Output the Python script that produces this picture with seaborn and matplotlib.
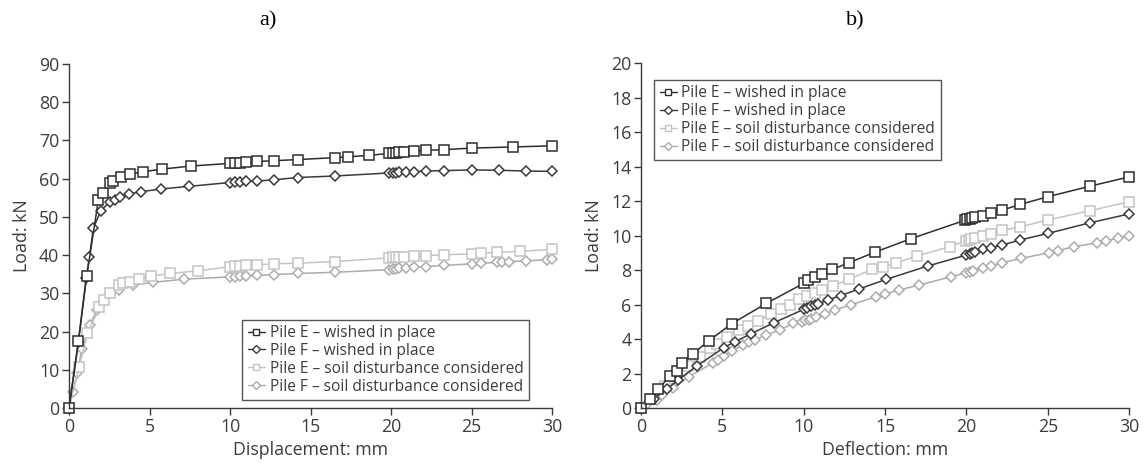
import numpy as np
import pandas as pd
import matplotlib
matplotlib.use("Agg")
import matplotlib.pyplot as plt
from matplotlib.lines import Line2D
import seaborn as sns

# ---------------- a) load-displacement ----------------
a_e_wished_x = [0, 0.58, 1.1, 1.82, 2.09, 2.55, 2.75, 3.23, 3.79, 4.57, 5.76, 7.56,
                10.0, 10.3, 10.6, 11.0, 11.7, 12.7, 14.2, 16.5, 17.3, 18.6,
                19.9, 20.1, 20.3, 20.5, 20.8, 21.4, 22.2, 23.3, 25.0, 27.6, 30.0]
a_e_wished_y = [0, 17.5, 34.6, 54.4, 56.3, 58.8, 59.5, 60.5, 61.2, 61.8, 62.5, 63.3,
                64.0, 64.1, 64.2, 64.3, 64.5, 64.7, 65.0, 65.5, 65.7, 66.1,
                66.6, 66.7, 66.8, 66.9, 67.0, 67.2, 67.4, 67.6, 68.0, 68.3, 68.6]

a_f_wished_x = [0, 0.58, 1.06, 1.26, 1.51, 1.97, 2.55, 2.86, 3.17, 3.73, 4.5, 5.7, 7.47,
                10.0, 10.3, 10.6, 11.0, 11.7, 12.7, 14.2, 16.5,
                19.9, 20.1, 20.3, 20.5, 20.9, 21.4, 22.2, 23.3, 25.0, 26.7, 28.4, 30.0]
a_f_wished_y = [0, 17.2, 33.9, 39.4, 47.0, 51.6, 54.0, 54.5, 55.1, 56.0, 56.6, 57.3, 58.0,
                59.0, 59.1, 59.2, 59.3, 59.4, 59.7, 60.3, 60.7,
                61.5, 61.6, 61.6, 61.7, 61.8, 61.8, 62.0, 62.1, 62.3, 62.2, 62.0, 61.9]

a_e_soil_x = [0, 0.62, 1.14, 1.88, 2.19, 2.55, 3.13, 3.37, 3.79, 4.35, 5.07, 6.27, 8.03,
              10.0, 10.3, 10.6, 11.0, 11.7, 12.7, 14.2, 16.5,
              19.9, 20.1, 20.3, 20.5, 20.8, 21.4, 22.2, 23.3, 25.0, 25.6, 26.6, 28.0, 30.0]
a_e_soil_y = [0, 10.6, 19.5, 26.3, 28.3, 30.2, 32.2, 32.6, 33.0, 33.7, 34.5, 35.2, 35.9,
              37.0, 37.1, 37.2, 37.3, 37.5, 37.7, 37.9, 38.3,
              39.3, 39.4, 39.4, 39.5, 39.6, 39.7, 39.9, 40.1, 40.3, 40.5, 40.7, 41.0, 41.5]

a_f_soil_x = [0, 0.23, 0.52, 0.79, 1.3, 1.72, 2.13, 2.55, 3.13, 4.0, 5.24, 7.14,
              10.0, 10.3, 10.6, 11.0, 11.7, 12.7, 14.2, 16.5,
              19.9, 20.1, 20.3, 20.5, 20.9, 21.4, 22.2, 23.3, 25.0, 25.6, 26.6, 26.9, 27.3,
              28.4, 29.7, 30.0]
a_f_soil_y = [0, 4.3, 9.1, 15.4, 21.7, 25.6, 27.8, 30.0, 30.9, 32.2, 32.9, 33.7,
              34.3, 34.4, 34.5, 34.6, 34.7, 34.9, 35.2, 35.5,
              36.2, 36.3, 36.4, 36.5, 36.7, 36.8, 37.0, 37.3, 37.7, 37.9, 38.1, 38.2, 38.3,
              38.5, 38.8, 38.9]

# ---------------- b) load-deflection ----------------
b_e_wished_x = [0, 0.55, 1.06, 1.78, 2.19, 2.5, 3.17, 4.17, 5.56, 7.71,
                10.0, 10.26, 10.67, 11.1, 11.76, 12.78, 14.36, 16.6,
                19.9, 20.05, 20.2, 20.35, 20.5, 21.0, 21.5, 22.2, 23.3, 25.0, 27.6, 30.0]
b_e_wished_y = [0, 0.55, 1.1, 1.86, 2.16, 2.62, 3.13, 3.9, 4.88, 6.07,
                7.23, 7.42, 7.58, 7.77, 8.04, 8.42, 9.03, 9.82,
                10.88, 10.93, 10.98, 11.03, 11.08, 11.16, 11.3, 11.47, 11.8, 12.25, 12.86, 13.4]

b_f_wished_x = [0, 0.8, 1.58, 2.29, 3.42, 5.09, 5.77, 6.75, 8.18,
                10.0, 10.2, 10.47, 10.67, 10.88, 11.5, 12.27, 13.4, 15.07, 17.62,
                20.0, 20.2, 20.35, 20.5, 21.0, 21.5, 22.2, 23.3, 25.0, 27.6, 30.0]
b_f_wished_y = [0, 0.55, 1.08, 1.64, 2.43, 3.5, 3.84, 4.3, 4.95,
                5.72, 5.8, 5.9, 5.97, 6.05, 6.26, 6.52, 6.9, 7.46, 8.23,
                8.87, 8.93, 8.98, 9.04, 9.2, 9.3, 9.45, 9.74, 10.12, 10.74, 11.25]

b_e_soil_x = [0, 0.6, 1.47, 2.2, 2.9, 3.6, 4.23, 4.65, 5.26, 6.03, 6.58, 7.2, 7.98,
              8.63, 9.14, 9.71, 10.2, 10.67, 11.1, 11.8, 12.78, 14.2, 14.86, 15.7,
              16.95, 18.96, 20.0, 20.15, 20.3, 20.5, 21.0, 21.5, 22.2, 23.3, 25.0, 27.6, 30.0]
b_e_soil_y = [0, 0.5, 1.28, 1.9, 2.43, 2.95, 3.5, 3.7, 4.13, 4.52, 4.75, 5.05, 5.45,
              5.75, 6.0, 6.3, 6.5, 6.68, 6.84, 7.07, 7.46, 8.04, 8.19, 8.42,
              8.81, 9.35, 9.7, 9.74, 9.78, 9.84, 10.0, 10.07, 10.3, 10.5, 10.9, 11.44, 11.96]

b_f_soil_x = [0, 0.35, 1.0, 1.27, 1.94, 2.96, 4.43, 4.74, 5.11, 5.62, 6.28, 6.63, 7.0,
              7.67, 8.53, 9.34, 9.92, 10.1, 10.3, 10.47, 10.78, 11.3, 11.9, 12.93,
              14.46, 15.0, 15.85, 17.1, 19.06, 20.0, 20.2, 20.4, 21.0, 21.5, 22.2,
              23.35, 25.05, 25.6, 26.6, 28.05, 28.6, 29.3, 30.0]
b_f_soil_y = [0, 0.25, 0.48, 0.77, 1.14, 1.82, 2.63, 2.79, 3.04, 3.33, 3.65, 3.84, 3.94,
              4.23, 4.52, 4.9, 5.0, 5.08, 5.12, 5.16, 5.28, 5.45, 5.68, 6.0,
              6.45, 6.6, 6.84, 7.13, 7.61, 7.84, 7.9, 7.97, 8.14, 8.25, 8.42,
              8.67, 9.0, 9.12, 9.35, 9.58, 9.7, 9.84, 10.0]

labels = ["Pile E \u2013 wished in place",
          "Pile F \u2013 wished in place",
          "Pile E \u2013 soil disturbance considered",
          "Pile F \u2013 soil disturbance considered"]
colors = ["#2e2e2e", "#3a3a3a", "#c4c4c4", "#acacac"]
markers = ["s", "D", "s", "D"]
msizes = [7.2, 4.9, 7.2, 4.9]

sns.set_style("ticks")
plt.rcParams["font.family"] = ["Open Sans", "DejaVu Sans"]
text_color = "#3c3c3c"

fig = plt.figure(figsize=(11.47, 4.70), dpi=100)
ax_a = fig.add_axes([0.0602, 0.1319, 0.4211, 0.7319])
ax_b = fig.add_axes([0.5589, 0.1319, 0.4255, 0.7340])

series_a = [(a_e_wished_x, a_e_wished_y), (a_f_wished_x, a_f_wished_y),
            (a_e_soil_x, a_e_soil_y), (a_f_soil_x, a_f_soil_y)]
series_b = [(b_e_wished_x, b_e_wished_y), (b_f_wished_x, b_f_wished_y),
            (b_e_soil_x, b_e_soil_y), (b_f_soil_x, b_f_soil_y)]

def draw(ax, series):
    # soil-disturbance curves first so the wished-in-place curves sit on top
    for i in [3, 2, 1, 0]:
        xs, ys = series[i]
        df = pd.DataFrame({"x": xs, "y": ys})
        sns.lineplot(data=df, x="x", y="y", ax=ax, estimator=None, sort=False,
                     color=colors[i], lw=1.1, marker=markers[i], ms=msizes[i],
                     markerfacecolor="white", markeredgecolor=colors[i],
                     markeredgewidth=1.1, legend=False)

draw(ax_a, series_a)
draw(ax_b, series_b)

def style(ax, ymax, ystep, xlabel):
    ax.set_xlim(0, 30)
    ax.set_ylim(0, ymax)
    ax.set_xticks(np.arange(0, 31, 5))
    ax.set_yticks(np.arange(0, ymax + 0.1, ystep))
    for line in ax.lines:
        line.set_clip_on(False)
    sns.despine(ax=ax)
    for s in ["left", "bottom"]:
        ax.spines[s].set_color("#3a3a3a")
        ax.spines[s].set_linewidth(1.0)
    ax.tick_params(axis="both", direction="out", length=5, width=1.0,
                   color="#3a3a3a", labelsize=12.8, labelcolor=text_color, pad=2)
    ax.set_xlabel(xlabel, fontsize=12.8, color=text_color, labelpad=4)
    ax.set_ylabel("Load: kN", fontsize=12.8, color=text_color, labelpad=6)

style(ax_a, 90, 10, "Displacement: mm")
style(ax_b, 20, 2, "Deflection: mm")

handles = [Line2D([0], [0], color=colors[i], lw=1.0, marker=markers[i],
                  ms=5 if markers[i] == "s" else 4, markerfacecolor="white",
                  markeredgecolor=colors[i], markeredgewidth=1.0)
           for i in range(4)]

def legend(ax, loc, anchor):
    leg = ax.legend(handles, labels, loc=loc, bbox_to_anchor=anchor,
                    frameon=True, fancybox=False, fontsize=11.2, handlelength=1.1,
                    handletextpad=0.3, borderpad=0.35, labelspacing=0.12,
                    borderaxespad=0.0)
    leg.get_frame().set_edgecolor("#2a2a2a")
    leg.get_frame().set_linewidth(1.0)
    for t in leg.get_texts():
        t.set_color(text_color)

legend(ax_a, "lower right", (0.952, 0.023))
legend(ax_b, "upper left", (0.027, 0.951))

fig.text(268 / 1147, 1 - 21 / 470, "a)", ha="center", va="center",
         fontsize=16, family="Liberation Serif", color="black")
fig.text(855 / 1147, 1 - 21 / 470, "b)", ha="center", va="center",
         fontsize=16, family="Liberation Serif", color="black")

fig.savefig("out.png", dpi=100, facecolor="white")
